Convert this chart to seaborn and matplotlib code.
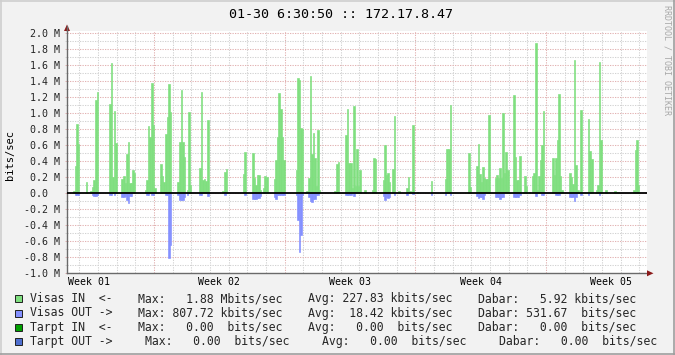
import numpy as np
import pandas as pd
import matplotlib
matplotlib.use("Agg")
import matplotlib.pyplot as plt
import seaborn as sns
from matplotlib.patches import Rectangle, Polygon
from matplotlib.lines import Line2D

# ---------------- data (2-hour slots, values in Mbit/s) ----------------
N_SLOTS = 373
visas_in_slot = [4, 5, 6, 7, 12, 15, 16, 17, 18, 19, 27, 28, 29, 30, 31,
                 35, 36, 37, 38, 39, 40, 41, 42, 43, 50, 51, 52, 53, 54, 55, 56,
                 60, 61, 62, 63, 64, 65, 66, 71, 72, 73, 74, 75, 77, 78, 79,
                 85, 86, 87, 88, 89, 90, 100, 101, 102, 113, 114,
                 119, 120, 121, 122, 123, 124, 126, 127, 128,
                 133, 134, 135, 136, 137, 138, 139, 147, 148, 149, 150, 151,
                 154, 155, 156, 157, 158, 159, 160, 161, 162, 172, 173, 174,
                 179, 180, 181, 182, 183, 184, 185, 186, 187, 188, 191,
                 196, 197, 198, 203, 204, 205, 206, 207, 209, 210, 213,
                 218, 219, 220, 222, 225, 234, 243, 244, 245, 246, 258, 259,
                 263, 264, 265, 266, 267, 268, 269, 270, 271,
                 275, 276, 277, 278, 279, 280, 281, 282, 283,
                 287, 288, 289, 290, 291, 293, 294, 295, 297,
                 299, 300, 301, 302, 303, 304, 305, 306,
                 312, 313, 314, 315, 316, 317, 318,
                 323, 324, 325, 326, 327, 328, 330, 335, 336, 337,
                 340, 341, 342, 343, 346, 352, 354, 364, 365, 366, 367]
visas_in_mbps = [0.03, 0.34, 0.87, 0.62, 0.14, 0.03, 0.08, 0.17, 1.17, 1.27,
                 1.12, 1.63, 0.20, 1.03, 0.63,
                 0.18, 0.22, 0.13, 0.49, 0.64, 0.13, 0.13, 0.29, 0.25,
                 0.04, 0.17, 0.84, 0.70, 1.38, 0.85, 0.07,
                 0.37, 0.22, 0.14, 0.74, 0.95, 1.37, 1.02,
                 0.14, 0.64, 1.29, 0.64, 0.45, 0.04, 1.02, 0.10,
                 0.32, 1.27, 0.17, 0.18, 0.15, 0.92, 0.03, 0.27, 0.30, 0.24, 0.52,
                 0.50, 0.19, 0.10, 0.23, 0.23, 0.04, 0.07, 0.22, 0.20,
                 0.18, 0.42, 0.70, 1.25, 1.05, 0.70, 0.42, 0.29, 1.44, 1.42, 0.82, 0.80,
                 0.03, 0.19, 1.47, 0.49, 0.75, 0.44, 0.09, 0.79, 0.04, 0.03, 0.37, 0.39,
                 0.73, 1.05, 0.38, 0.38, 0.07, 1.09, 0.09, 0.55, 0.09, 0.29, 0.04,
                 0.04, 0.44, 0.43, 0.17, 0.60, 0.23, 0.25, 0.14, 0.30, 0.97, 0.03,
                 0.07, 0.20, 0.03, 0.85, 0.02, 0.15, 0.18, 0.55, 0.55, 1.10, 0.50, 0.08,
                 0.34, 0.62, 0.24, 0.14, 0.33, 0.19, 0.18, 0.18, 0.98,
                 0.19, 0.23, 0.19, 0.32, 0.19, 1.00, 0.25, 0.52, 0.29,
                 1.23, 0.45, 0.17, 0.17, 0.47, 0.02, 0.22, 0.09, 0.02,
                 0.22, 0.25, 1.88, 0.04, 0.22, 0.42, 0.60, 1.03,
                 0.44, 0.23, 0.44, 0.67, 1.24, 0.22, 0.04,
                 0.25, 0.20, 0.12, 1.67, 0.35, 0.04, 1.04, 0.93, 0.53, 0.43,
                 0.04, 0.10, 1.64, 0.67, 0.04, 0.03, 0.02, 0.04, 0.54, 0.67, 0.11]
visas_out_slot = [5, 6, 7, 16, 17, 18, 19, 27, 28, 30,
                  35, 36, 37, 38, 39, 40, 41, 51, 52, 54, 55,
                  63, 64, 65, 66, 71, 72, 73, 74, 75, 77, 85, 86, 90, 101, 114,
                  119, 120, 121, 122, 123, 124, 133, 134, 135, 136, 137, 138, 139,
                  147, 148, 149, 150, 151, 155, 156, 157, 158, 159, 160, 161,
                  179, 180, 181, 182, 184, 203, 204, 205, 206, 207, 210,
                  218, 222, 234, 243, 246, 263, 264, 265, 266, 267, 268,
                  275, 276, 277, 278, 279, 280, 287, 288, 289, 290, 291,
                  301, 305, 306, 314, 315, 316, 323, 324, 325, 326, 327, 330, 335, 342]
visas_out_mbps = [0.02, 0.02, 0.02, 0.02, 0.03, 0.03, 0.02, 0.02, 0.02, 0.02,
                  0.04, 0.05, 0.03, 0.08, 0.12, 0.03, 0.03, 0.02, 0.02, 0.02, 0.02,
                  0.02, 0.02, 0.81, 0.64, 0.02, 0.08, 0.08, 0.08, 0.05, 0.02, 0.02, 0.02, 0.03, 0.02, 0.02,
                  0.07, 0.07, 0.07, 0.06, 0.06, 0.03, 0.04, 0.07, 0.02, 0.02, 0.02, 0.02, 0.02,
                  0.02, 0.33, 0.73, 0.52, 0.02, 0.05, 0.10, 0.11, 0.07, 0.07, 0.02, 0.02,
                  0.02, 0.02, 0.02, 0.02, 0.03, 0.03, 0.08, 0.05, 0.06, 0.04, 0.02,
                  0.02, 0.01, 0.02, 0.02, 0.02, 0.03, 0.06, 0.05, 0.04, 0.07, 0.02,
                  0.05, 0.05, 0.05, 0.07, 0.05, 0.05, 0.05, 0.05, 0.05, 0.05, 0.02,
                  0.03, 0.02, 0.02, 0.02, 0.02, 0.02, 0.05, 0.05, 0.05, 0.09, 0.04, 0.02, 0.02, 0.02]

week_labels = ["Week 01", "Week 02", "Week 03", "Week 04", "Week 05"]
week_start_slots = [56, 140, 224, 308]
y_tick_values = [-1.0, -0.8, -0.6, -0.4, -0.2, 0.0, 0.2, 0.4, 0.6, 0.8, 1.0, 1.2, 1.4, 1.6, 1.8, 2.0]
y_tick_labels = ["-1.0 M", "-0.8 M", "-0.6 M", "-0.4 M", "-0.2 M", "0.0  ", "0.2 M", "0.4 M",
                 "0.6 M", "0.8 M", "1.0 M", "1.2 M", "1.4 M", "1.6 M", "1.8 M", "2.0 M"]

legend_names = ["Visas IN  <-", "Visas OUT ->", "Tarpt IN  <-", "Tarpt OUT ->"]
legend_max = [1.88, 807.72, 0.00, 0.00]
legend_max_unit = ["M", "k", " ", " "]
legend_avg = [227.83, 18.42, 0.00, 0.00]
legend_avg_unit = ["k", "k", " ", " "]
legend_cur = [5.92, 531.67, 0.00, 0.00]
legend_cur_unit = ["k", " ", " ", " "]
title_text = "01-30 6:30:50 :: 172.17.8.47"

# ---------------- style ----------------
IN_COLOR = "#7FDF7F"
OUT_COLOR = "#8490FF"
TIN_COLOR = "#00A000"
TOUT_COLOR = "#4F6FCF"
series_colors = [IN_COLOR, OUT_COLOR, TIN_COLOR, TOUT_COLOR]
BACK = "#F2F2F2"
MINOR_GRID = "#D2D2D2"
MAJOR_GRID = "#E2B2B2"
AXIS_COL = "#6A6A6A"
ARROW_COL = "#8B1A1A"
MONO = "DejaVu Sans Mono"

sns.set_theme(style="white")
plt.rcParams["font.family"] = [MONO, "DejaVu Sans"]

W, H = 675, 355
fig = plt.figure(figsize=(W / 100, H / 100), dpi=100)
fig.patch.set_facecolor(BACK)


def fx(x):
    return x / W


def fy(y):
    return 1 - y / H


LEFT, RIGHT, BOTTOM, TOP = 67, 647, 273.3, 30.5
ax = fig.add_axes([fx(LEFT), fy(BOTTOM), (RIGHT - LEFT) / W, (BOTTOM - TOP) / H])
ax.set_facecolor("white")

in_full = np.zeros(N_SLOTS)
in_full[visas_in_slot] = visas_in_mbps
out_full = np.zeros(N_SLOTS)
out_full[visas_out_slot] = visas_out_mbps
df = pd.DataFrame({"slot": np.arange(N_SLOTS) + 0.5, "vin": in_full, "vout": -out_full})

sns.barplot(data=df, x="slot", y="vin", native_scale=True, width=1, color=IN_COLOR,
            saturation=1, linewidth=0.45, edgecolor=IN_COLOR, errorbar=None, ax=ax, zorder=2)
sns.barplot(data=df, x="slot", y="vout", native_scale=True, width=1, color=OUT_COLOR,
            saturation=1, linewidth=0.45, edgecolor=OUT_COLOR, errorbar=None, ax=ax, zorder=2)
for p in ax.patches:
    if abs(p.get_height()) < 1e-9:
        p.set_visible(False)

ax.set_xlim(0, N_SLOTS)
ylim_top = 2.0 + (33.3 - TOP) / 80.0
ax.set_ylim(-1.0, ylim_top)

# grid
ax.set_xticks(week_start_slots)
ax.set_xticks([s for s in range(8, N_SLOTS, 12) if s not in week_start_slots], minor=True)
ax.set_xticklabels([])
ax.set_yticks(y_tick_values)
ax.set_yticklabels(y_tick_labels, fontsize=7.2, fontfamily=MONO)
ax.set_yticks(np.round(np.arange(-0.9, 2.0, 0.2), 2), minor=True)
ax.grid(which="major", color=MAJOR_GRID, linestyle=(0, (1.2, 1.2)), linewidth=0.75)
ax.grid(which="minor", color=MINOR_GRID, linestyle=(0, (1.2, 1.2)), linewidth=0.75)
ax.set_axisbelow(True)
ax.tick_params(axis="y", which="major", length=1.6, width=0.7, color=MAJOR_GRID, pad=3.2, left=True)
ax.tick_params(axis="y", which="minor", length=1.6, width=0.7, color=MINOR_GRID, left=True)
ax.tick_params(axis="x", which="both", length=0)
ax.set_xlabel("")
ax.set_ylabel("")

for s in ["top", "right"]:
    ax.spines[s].set_visible(False)
ax.spines["left"].set_color(AXIS_COL)
ax.spines["bottom"].set_color(AXIS_COL)
ax.spines["left"].set_linewidth(1.0)
ax.spines["bottom"].set_linewidth(1.0)

ax.axhline(0, color="black", linewidth=1.3, zorder=4)

# week labels at mid-week
for i, lab in enumerate(week_labels):
    xc = week_start_slots[0] - 42 + 84 * i
    t = ax.text(xc, -1.0 - 4.0 / 80.0, lab, transform=ax.transData, ha="center", va="top",
                fontsize=7.1, fontfamily=MONO, color="black")
    t.set_clip_on(False)

# axis extension + arrows (figure pixel coords)
fig.add_artist(Line2D([fx(LEFT), fx(LEFT)], [fy(TOP), fy(26)], color=AXIS_COL, lw=1.0))
fig.add_artist(Polygon([[fx(LEFT - 3), fy(31)], [fx(LEFT + 3), fy(31)], [fx(LEFT), fy(24.5)]],
                       closed=True, color=ARROW_COL, lw=0))
fig.add_artist(Polygon([[fx(RIGHT), fy(BOTTOM - 3)], [fx(RIGHT), fy(BOTTOM + 3)], [fx(RIGHT + 6.5), fy(BOTTOM)]],
                       closed=True, color=ARROW_COL, lw=0))

# title, ylabel, watermark
fig.text(fx(341), fy(14), title_text, ha="center", va="center", fontsize=9.6,
         fontfamily=MONO, color="black")
fig.text(fx(10), fy(155), "bits/sec", rotation=90, ha="center", va="center",
         fontsize=7.5, fontfamily=MONO, color="black")
fig.text(fx(667), fy(5), "RRDTOOL / TOBI OETIKER", rotation=270, ha="center", va="top",
         fontsize=6.0, fontfamily=MONO, color="#A8A8A8")

# legend
group_x = [[137.9, 308.2, 477.6], [137.9, 308.2, 477.6], [137.9, 308.2, 477.6], [145.3, 322.4, 499.1]]
for i in range(4):
    base = 302.3 + 14.2 * i
    fig.add_artist(Rectangle((fx(15.2), fy(base)), 7 / W, 7 / H, facecolor=series_colors[i],
                             edgecolor="#202020", linewidth=0.7))
    fig.text(fx(30.2), fy(base), legend_names[i], ha="left", va="baseline",
             fontsize=8.3, fontfamily=MONO)
    gx = group_x[i]
    fig.text(fx(gx[0]), fy(base), f"Max: {legend_max[i]:6.2f} {legend_max_unit[i]}bits/sec",
             ha="left", va="baseline", fontsize=8.3, fontfamily=MONO)
    fig.text(fx(gx[1]), fy(base), f"Avg: {legend_avg[i]:6.2f} {legend_avg_unit[i]}bits/sec",
             ha="left", va="baseline", fontsize=8.3, fontfamily=MONO)
    fig.text(fx(gx[2]), fy(base), f"Dabar: {legend_cur[i]:6.2f} {legend_cur_unit[i]}bits/sec",
             ha="left", va="baseline", fontsize=8.3, fontfamily=MONO)

# 3D frame
fig.add_artist(Line2D([0, 1], [fy(0.5), fy(0.5)], color="#CFCFCF", lw=1.2))
fig.add_artist(Line2D([fx(0.5), fx(0.5)], [0, 1], color="#CFCFCF", lw=1.2))
fig.add_artist(Line2D([0, 1], [fy(H - 0.7), fy(H - 0.7)], color="#9E9E9E", lw=1.2))
fig.add_artist(Line2D([fx(W - 0.7), fx(W - 0.7)], [0, 1], color="#9E9E9E", lw=1.2))

fig.savefig("out.png", dpi=100, facecolor=BACK)
